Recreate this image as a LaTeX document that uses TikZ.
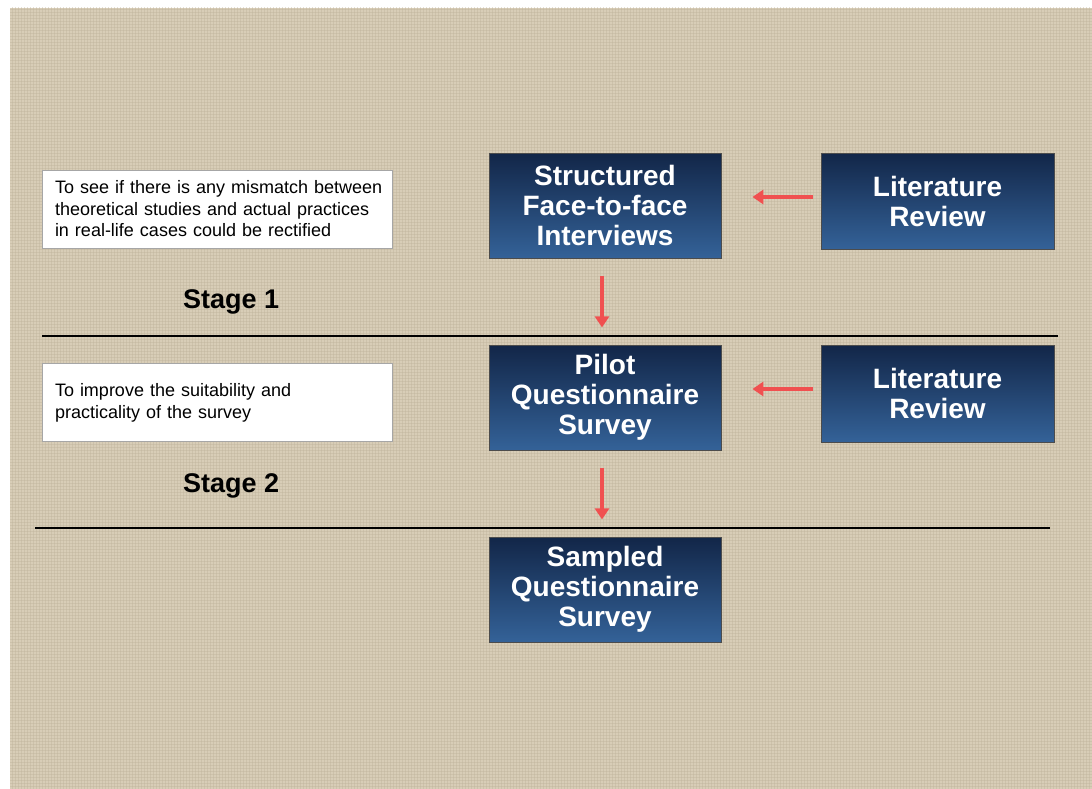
\documentclass[tikz,border=0pt]{standalone}
\usepackage{fontspec}
\setmainfont{Liberation Sans}
\usetikzlibrary{arrows.meta,calc,patterns}
\hfuzz=6pt
\definecolor{bgbeige}{RGB}{216,205,183}
\definecolor{bgdark}{RGB}{190,178,154}
\definecolor{navytop}{RGB}{18,38,72}
\definecolor{navybot}{RGB}{52,98,152}
\definecolor{arrred}{RGB}{240,80,80}
\tikzset{
  stepbox/.style={draw=gray!60!black, line width=0.8pt, top color=navytop, bottom color=navybot,
    minimum width=232pt, text=white, align=center,
    font=\fontsize{28}{30}\selectfont\bfseries, inner sep=0pt},
  notebox/.style={draw=gray!70, line width=0.8pt, fill=white, minimum width=350pt, minimum height=78pt,
    text width=324pt, inner xsep=13pt, inner ysep=0pt, align=left, font=\fontsize{18}{21.5}\selectfont},
  stagelbl/.style={font=\fontsize{27}{30}\selectfont\bfseries, anchor=west, inner sep=0pt},
  redarrow/.style={draw=arrred, line width=3.5pt, -{Triangle[length=11pt,width=14pt]}},
  sepline/.style={line width=2pt, black}
}
\begin{document}
\begin{tikzpicture}[x=1pt,y=-1pt]
\useasboundingbox (0,0) rectangle (1092,789);
\fill[white] (0,0) rectangle (1092,789);
\fill[bgbeige] (10,8) rectangle (1092,789);
\fill[pattern=grid, pattern color=bgdark, opacity=0.4] (10,8) rectangle (1092,789);
% boxes
\node[stepbox, minimum height=105pt] (sfi) at (605,205.5) {Structured\\Face-to-face\\Interviews};
\node[stepbox, minimum height=96pt, minimum width=233pt] (lr1) at (937.5,201) {Literature\\Review};
\node[stepbox, minimum height=105pt] (pqs) at (605,397.5) {Pilot\\Questionnaire\\Survey};
\node[stepbox, minimum height=97pt, minimum width=233pt] (lr2) at (937.5,393.5) {Literature\\Review};
\node[stepbox, minimum height=105pt] (sqs) at (605,589.5) {Sampled\\Questionnaire\\Survey};
% notes
\node[notebox] (n1) at (217,209) {\mbox{To see if there is any mismatch between}\\\mbox{theoretical studies and actual practices}\\\mbox{in real-life cases could be rectified}};
\node[notebox] (n2) at (217,402) {\\[-7pt]\mbox{To improve the suitability and}\\\mbox{practicality of the survey}\\[9pt]};
% stage labels
\node[stagelbl] (s1) at (183,302) {Stage 1};
\node[stagelbl] (s2) at (183,486) {Stage 2};
% separator lines
\coordinate (l1a) at (42,336); \coordinate (l1b) at (1058,336);
\coordinate (l2a) at (35,528); \coordinate (l2b) at (1050,528);
\draw[sepline] (l1a) -- (l1b);
\draw[sepline] (l2a) -- (l2b);
% arrows
\draw[redarrow] ($(lr1.west)+(-8,-4)$) -- ($(sfi.east)+(31,-8.5)$);
\draw[redarrow] ($(lr2.west)+(-8,-4.5)$) -- ($(pqs.east)+(31,-8.5)$);
\draw[redarrow] ($(sfi.south)+(-3,18)$) -- ($(sfi.south)+(-3,69)$);
\draw[redarrow] ($(pqs.south)+(-3,18)$) -- ($(pqs.south)+(-3,69)$);
\end{tikzpicture}
\end{document}
